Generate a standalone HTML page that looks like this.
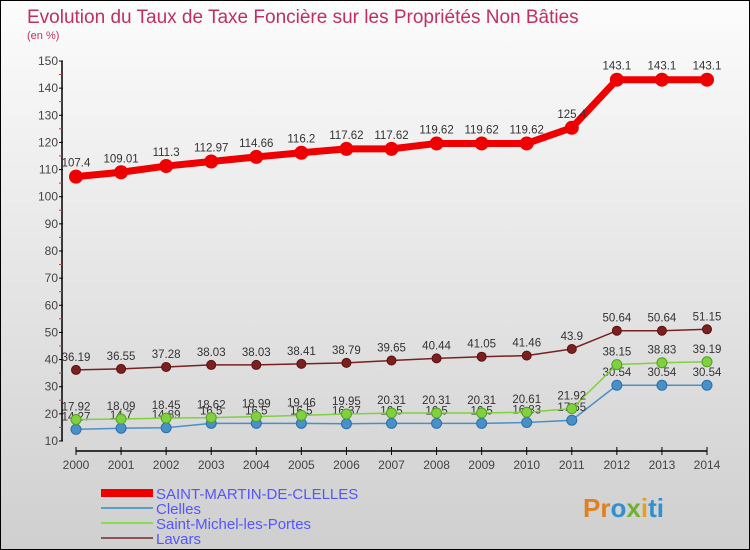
<!DOCTYPE html>
<html><head><meta charset="utf-8"><style>
body{margin:0}
#c{width:748px;height:548px;border:1px solid #000;background:linear-gradient(#fcfcfc,#cfcfcf);position:relative;font-family:"Liberation Sans",sans-serif;overflow:hidden}
</style></head><body>
<div id="c">
<svg id="s" width="748" height="548" style="position:absolute;left:0;top:0">
<text x="26" y="22" font-size="19" fill="#c0305f">Evolution du Taux de Taxe Foncière sur les Propriétés Non Bâties</text>
<text x="26" y="38" font-size="11" fill="#c0305f">(en %)</text>
<g id="axes"></g><g id="series"></g>
<g font-size="15" fill="#5555ff">
<line x1="100" y1="492" x2="152" y2="492" stroke="#ee0000" stroke-width="8"/>
<text x="155" y="498">SAINT-MARTIN-DE-CLELLES</text>
<line x1="100" y1="507" x2="152" y2="507" stroke="#5a9ec8" stroke-width="2"/>
<text x="155" y="513">Clelles</text>
<line x1="100" y1="522" x2="152" y2="522" stroke="#88dd55" stroke-width="2"/>
<text x="155" y="528">Saint-Michel-les-Portes</text>
<line x1="100" y1="537" x2="152" y2="537" stroke="#8a5555" stroke-width="2"/>
<text x="155" y="543">Lavars</text>
</g>
<g font-size="26" font-weight="bold">
<text x="582" y="516" fill="#e08020">Pr<tspan fill="#3090d0">o</tspan><tspan fill="#70b030">x</tspan><tspan fill="#e0a020">i</tspan><tspan fill="#3090d0">ti</tspan></text>
</g>
</svg>
</div>
<script>
const years=[2000,2001,2002,2003,2004,2005,2006,2007,2008,2009,2010,2011,2012,2013,2014];
const yTicks=[10,20,30,40,50,60,70,80,90,100,110,120,130,140,150];
const stMartin=[107.4,109.01,111.3,112.97,114.66,116.2,117.62,117.62,119.62,119.62,119.62,125.4,143.1,143.1,143.1];
const clelles=[14.27,14.7,14.89,16.5,16.5,16.5,16.37,16.5,16.5,16.5,16.83,17.65,30.54,30.54,30.54];
const stMichel=[17.92,18.09,18.45,18.62,18.99,19.46,19.95,20.31,20.31,20.31,20.61,21.92,38.15,38.83,39.19];
const lavars=[36.19,36.55,37.28,38.03,38.03,38.41,38.79,39.65,40.44,41.05,41.46,43.9,50.64,50.64,51.15];
const NS='http://www.w3.org/2000/svg';
const xS=i=>75+i*(706-75)/(years.length-1);
const yS=v=>440-(v-10)*(380/140);
function mk(tag,attrs,parent){const e=document.createElementNS(NS,tag);for(const k in attrs)e.setAttribute(k,attrs[k]);parent.appendChild(e);return e;}
const ax=document.getElementById('axes');
let yl=mk('line',{x1:61,y1:yS(150),x2:61,y2:yS(10),stroke:'#000','stroke-width':1.5},ax);


yTicks.forEach(t=>{
 const y=yS(t);
 mk('line',{x1:58,y1:y,x2:62,y2:y,stroke:'#000'},ax);
 if(t>10) mk('line',{x1:58,y1:y+13.5,x2:61,y2:y+13.5,stroke:'#e03030'},ax);
 const tx=mk('text',{x:57,y:y+4,'text-anchor':'end','font-size':12,fill:'#444'},ax);
 tx.textContent=t;
 
 
});
let xl=mk('line',{x1:xS(0),y1:450,x2:xS(14),y2:450,stroke:'#000','stroke-width':1.5},ax);


years.forEach((yr,i)=>{
 mk('line',{x1:xS(i),y1:446,x2:xS(i),y2:454,stroke:'#000'},ax);
 const tx=mk('text',{x:xS(i),y:468,'text-anchor':'middle','font-size':12,fill:'#444'},ax);
 tx.textContent=yr;
 
 
});
const sg=document.getElementById('series');
function draw(vals,name,color,w,r,dark,labOff){
 const g=mk('g',{},sg);
 
 
 const p=mk('polyline',{points:vals.map((v,i)=>xS(i)+','+yS(v)).join(' '),fill:'none',stroke:color,'stroke-width':w},g);
 
 
 vals.forEach((v,i)=>{
  const c=mk('circle',{cx:xS(i),cy:yS(v),r:r,fill:color,stroke:dark,'stroke-width':1},g);
  
  
  const t=mk('text',{x:xS(i),y:yS(v)+labOff,'text-anchor':'middle','font-size':11.5,fill:'#333'},g);
  t.textContent=v;
  
  
 });
}
draw(lavars,'lavars','#7a2020',1.5,4.5,'#5a1010',-9);
draw(clelles,'clelles','#4a90c8',1.5,5,'#2a70a8',-9);
draw(stMichel,'saint-michel','#80d040',1.5,5,'#50a020',-9);
draw(stMartin,'saint-martin','#ee0000',7,6.5,'#ee0000',-10);
</script>
</body></html>
